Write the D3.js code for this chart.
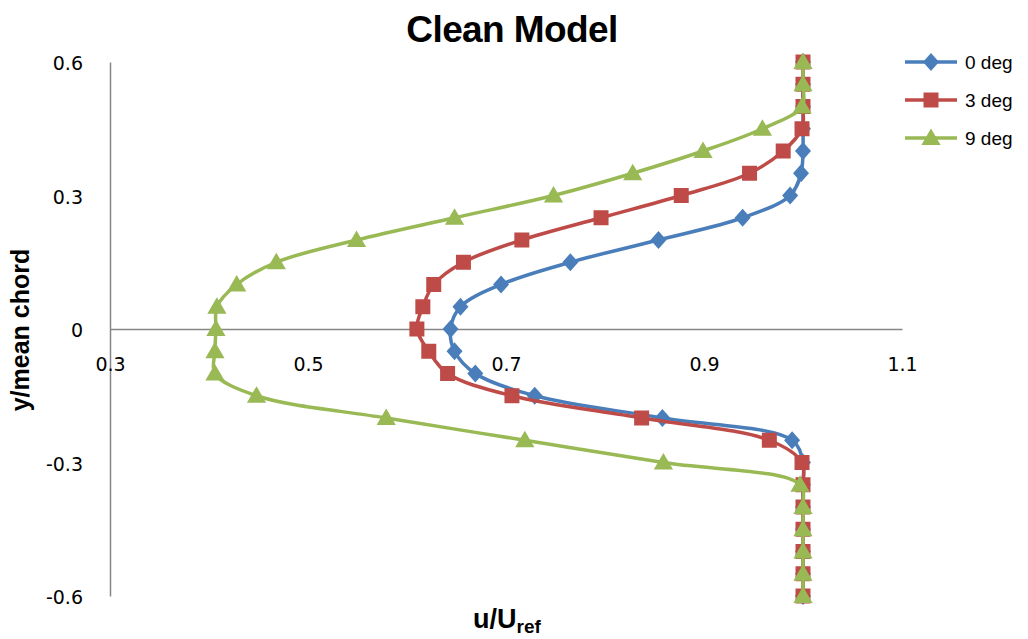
<!DOCTYPE html>
<html>
<head>
<meta charset="utf-8">
<script src="https://cdn.jsdelivr.net/npm/d3@7/dist/d3.min.js"></script>
<style>
  html, body { margin: 0; padding: 0; background: #fff; }
  svg { display: block; }
</style>
</head>
<body>
<svg id="chart" width="1028" height="639"></svg>
<script>
// Wake velocity profiles: y/mean chord stations and u/Uref at each station
const yStations = [0.6, 0.55, 0.5, 0.45, 0.4, 0.35, 0.3, 0.25, 0.2, 0.15, 0.1, 0.05, 0,
  -0.05, -0.1, -0.15, -0.2, -0.25, -0.3, -0.35, -0.4, -0.45, -0.5, -0.55, -0.6];

const u0deg = [1.0, 1.0, 1.0, 1.0, 1.0, 0.998, 0.987, 0.939, 0.854, 0.765, 0.695, 0.654, 0.644,
  0.648, 0.669, 0.729, 0.858, 0.989, 1.0, 1.0, 1.0, 1.0, 1.0, 1.0, 1.0];

const u3deg = [1.0, 1.0, 1.0, 0.999, 0.980, 0.946, 0.877, 0.796, 0.716, 0.657, 0.627, 0.616, 0.610,
  0.622, 0.641, 0.706, 0.837, 0.966, 0.999, 1.0, 1.0, 1.0, 1.0, 1.0, 1.0];

const u9deg = [1.0, 1.0, 0.999, 0.959, 0.899, 0.828, 0.748, 0.648, 0.549, 0.468, 0.428, 0.408, 0.407,
  0.406, 0.406, 0.448, 0.579, 0.719, 0.859, 0.997, 1.0, 1.0, 1.0, 1.0, 1.0];

const seriesNames = ["0 deg", "3 deg", "9 deg"];
const seriesColors = ["#4A7EBB", "#BE4B48", "#98B954"];
const seriesMarkers = ["diamond", "square", "triangle"];

const xTicks = [0.3, 0.5, 0.7, 0.9, 1.1];
const yTicks = [0.6, 0.3, 0, -0.3, -0.6];

const svg = d3.select("#chart");
const plot = { left: 110, right: 902, top: 62, bottom: 596 };

const x = d3.scaleLinear().domain([0.3, 1.1]).range([plot.left, plot.right]);
const y = d3.scaleLinear().domain([-0.6, 0.6]).range([plot.bottom, plot.top]);

const axisColor = "#868686";
const tickFont = "'DejaVu Sans', Verdana, sans-serif";
const labelFont = "'Liberation Sans', Arial, sans-serif";
const fmt = d => d === 0 ? "0" : d3.format(".1f")(d).replace("\u2212", "-");

// Vertical axis at x = 0.3 with labels on the left
const yAxis = d3.axisLeft(y).tickValues(yTicks).tickSize(0).tickPadding(27).tickFormat(fmt);
const gy = svg.append("g").attr("transform", `translate(${x(0.3)},0)`).call(yAxis);
gy.select(".domain").attr("stroke", axisColor).attr("stroke-width", 1.5);
gy.selectAll("text").attr("font-family", tickFont).attr("font-size", 19).attr("fill", "#000")
  .attr("dy", "0.4em");

// Horizontal axis crossing at y = 0, labels below
const xAxis = d3.axisBottom(x).tickValues(xTicks).tickSize(0).tickPadding(29).tickFormat(fmt);
const gx = svg.append("g").attr("transform", `translate(0,${y(0)})`).call(xAxis);
gx.select(".domain").attr("stroke", axisColor).attr("stroke-width", 1.5);
gx.selectAll("text").attr("font-family", tickFont).attr("font-size", 19).attr("fill", "#000");

// Marker symbols
function markerPath(kind) {
  if (kind === "diamond") return "M0,-9L8,0L0,9L-8,0Z";
  if (kind === "square") return d3.symbol().type(d3.symbolSquare).size(225)();
  return d3.symbol().type(d3.symbolTriangle).size(160)();
}
const markerShift = kind => kind === "triangle" ? 1.5 : 0;

const allSeries = [u0deg, u3deg, u9deg];
const line = d3.line()
  .x(d => x(d[0]))
  .y(d => y(d[1]))
  .curve(d3.curveCatmullRom.alpha(0.5));

allSeries.forEach((vals, i) => {
  const pts = vals.map((u, k) => [u, yStations[k]]);
  const g = svg.append("g");
  g.append("path")
    .datum(pts)
    .attr("d", line)
    .attr("fill", "none")
    .attr("stroke", seriesColors[i])
    .attr("stroke-width", 3.5)
    .attr("stroke-linejoin", "round");
  g.selectAll("path.m")
    .data(pts)
    .enter().append("path")
    .attr("class", "m")
    .attr("d", markerPath(seriesMarkers[i]))
    .attr("transform", d => `translate(${x(d[0])},${y(d[1]) + markerShift(seriesMarkers[i])})`)
    .attr("fill", seriesColors[i]);
});

// Title
svg.append("text")
  .attr("x", 512).attr("y", 42)
  .attr("text-anchor", "middle")
  .attr("font-family", labelFont)
  .attr("font-weight", "bold")
  .attr("font-size", 37)
  .attr("letter-spacing", -0.6)
  .text("Clean Model");

// Axis titles
svg.append("text")
  .attr("transform", "translate(29,330) rotate(-90)")
  .attr("text-anchor", "middle")
  .attr("font-family", labelFont)
  .attr("font-weight", "bold")
  .attr("font-size", 25)
  .text("y/mean chord");

const xt = svg.append("text")
  .attr("x", 507).attr("y", 628)
  .attr("text-anchor", "middle")
  .attr("font-family", labelFont)
  .attr("font-weight", "bold")
  .attr("font-size", 27);
xt.append("tspan").text("u/U");
xt.append("tspan").attr("font-size", 19).attr("dy", 5).text("ref");

// Legend
const legend = svg.append("g");
seriesNames.forEach((name, i) => {
  const ly = 62 + i * 38;
  legend.append("line")
    .attr("x1", 905).attr("x2", 957).attr("y1", ly).attr("y2", ly)
    .attr("stroke", seriesColors[i]).attr("stroke-width", 3.5);
  legend.append("path")
    .attr("d", markerPath(seriesMarkers[i]))
    .attr("transform", `translate(931,${ly + markerShift(seriesMarkers[i])})`)
    .attr("fill", seriesColors[i]);
  legend.append("text")
    .attr("x", 965).attr("y", ly + 7)
    .attr("font-family", labelFont)
    .attr("font-size", 19)
    .text(name);
});
</script>
</body>
</html>
